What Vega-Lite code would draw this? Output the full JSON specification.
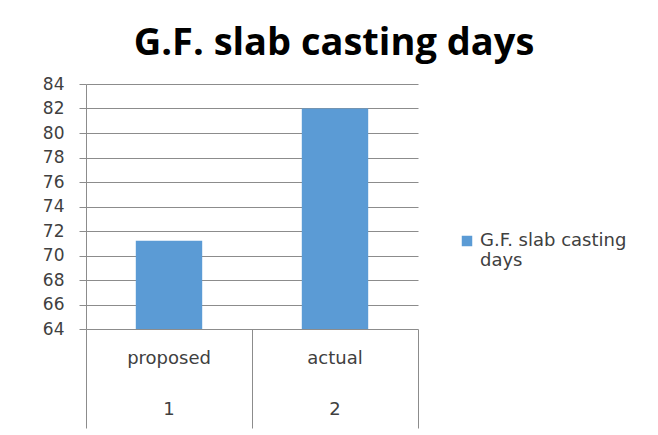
{
  "$schema": "https://vega.github.io/schema/vega-lite/v6.json",
  "width": 332,
  "height": 245,
  "autosize": {"type": "none"},
  "padding": {"left": 86, "top": 84, "right": 240, "bottom": 106},
  "background": "white",
  "title": {
    "text": "G.F. slab casting days",
    "font": "Open Sans",
    "fontSize": 38,
    "fontWeight": "bold",
    "color": "#000000",
    "anchor": "middle",
    "frame": "group",
    "dx": 82,
    "offset": 12
  },
  "data": {
    "values": [
      {"category": "proposed", "series": "G.F. slab casting days", "days": 71.2},
      {"category": "actual", "series": "G.F. slab casting days", "days": 82}
    ]
  },
  "layer": [
    {
      "mark": {"type": "bar", "clip": true},
      "encoding": {
        "x": {
          "field": "category",
          "type": "nominal",
          "sort": null,
          "scale": {"domain": ["proposed", "actual"], "paddingInner": 0.6, "paddingOuter": 0.3},
          "axis": {
            "title": null,
            "domain": false,
            "grid": false,
            "ticks": false,
            "labelAngle": 0,
            "labelExpr": "datum.value == 'proposed' ? ['proposed', '1'] : ['actual', '2']",
            "labelFont": "DejaVu Sans",
            "labelFontSize": 18,
            "labelColor": "#404040",
            "labelLineHeight": 51,
            "labelPadding": 20
          }
        },
        "y": {
          "field": "days",
          "type": "quantitative",
          "scale": {"domain": [64, 84], "nice": false, "zero": false},
          "axis": {
            "title": null,
            "values": [64, 66, 68, 70, 72, 74, 76, 78, 80, 82, 84],
            "domainColor": "#8c8c8c",
            "tickColor": "#8c8c8c",
            "tickSize": 7,
            "gridColor": "#8c8c8c",
            "labelFont": "DejaVu Sans",
            "labelFontSize": 17,
            "labelColor": "#404040",
            "labelPadding": 15
          }
        },
        "color": {
          "field": "series",
          "type": "nominal",
          "scale": {"range": ["#5b9bd5"]},
          "legend": {
            "title": null,
            "orient": "none",
            "legendX": 372,
            "legendY": 148,
            "symbolType": "square",
            "symbolSize": 110,
            "symbolStrokeWidth": 0,
            "labelExpr": "['G.F. slab casting', 'days']",
            "labelFont": "DejaVu Sans",
            "labelFontSize": 18,
            "labelColor": "#404040",
            "labelLineHeight": 22,
            "labelLimit": 300
          }
        }
      }
    },
    {
      "mark": {"type": "rule", "opacity": 0},
      "encoding": {
        "x": {
          "datum": 1,
          "type": "quantitative",
          "scale": {"domain": [0, 2], "nice": false, "zero": false},
          "axis": {
            "orient": "bottom",
            "title": null,
            "values": [0, 1, 2],
            "labels": false,
            "domain": false,
            "grid": false,
            "tickSize": 99,
            "tickColor": "#8c8c8c"
          }
        }
      }
    }
  ],
  "resolve": {"scale": {"x": "independent"}, "axis": {"x": "independent"}},
  "config": {"view": {"stroke": null}}
}
